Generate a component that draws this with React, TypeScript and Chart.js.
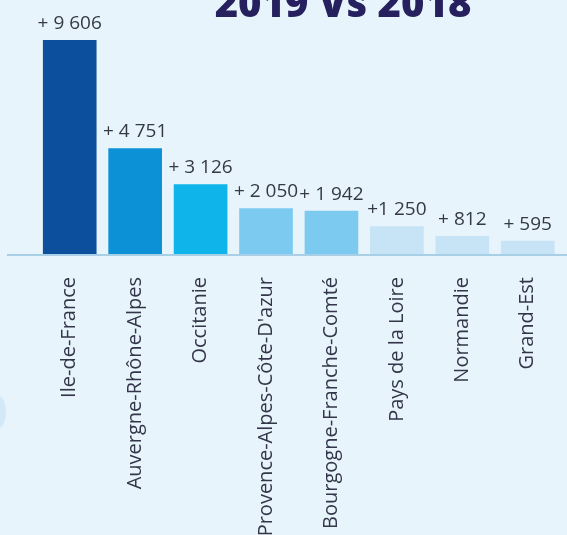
import React, { useEffect, useRef } from "react";
import { Chart, registerables } from "chart.js";

Chart.register(...registerables);

const TITLE = "2019 Vs 2018";
const categories = [
  "Ile-de-France",
  "Auvergne-Rhône-Alpes",
  "Occitanie",
  "Provence-Alpes-Côte-D'azur",
  "Bourgogne-Franche-Comté",
  "Pays de la Loire",
  "Normandie",
  "Grand-Est",
];
const values = [9606, 4751, 3126, 2050, 1942, 1250, 812, 595];
const valueLabels = ["+ 9 606", "+ 4 751", "+ 3 126", "+ 2 050", "+ 1 942", "+1 250", "+ 812", "+ 595"];
const barColors = ["#0b4f9d", "#0c91d7", "#0fb5ea", "#7ccaf0", "#7ccaf0", "#c6e4f6", "#c6e4f6", "#c6e4f6"];

const W = 567;
const H = 620;
const AXIS_Y = 254;

export default function App() {
  const ref = useRef<HTMLCanvasElement | null>(null);

  useEffect(() => {
    if (!ref.current) return;
    const deco = {
      id: "deco",
      beforeDatasetsDraw(chart: any) {
        const { ctx, chartArea } = chart;
        ctx.save();
        ctx.strokeStyle = "#a9cfe6";
        ctx.lineWidth = 2;
        ctx.beginPath();
        ctx.moveTo(7, chartArea.bottom + 1);
        ctx.lineTo(W, chartArea.bottom + 1);
        ctx.stroke();
        ctx.restore();
      },
      afterDatasetsDraw(chart: any) {
        const { ctx } = chart;
        const meta = chart.getDatasetMeta(0);
        ctx.save();
        ctx.fillStyle = "#343944";
        ctx.font = "19px 'Open Sans'";
        ctx.textAlign = "center";
        ctx.textBaseline = "alphabetic";
        meta.data.forEach((bar: any, i: number) => {
          ctx.fillText(valueLabels[i], bar.x, bar.y - 11);
        });
        ctx.fillStyle = "#26215e";
        ctx.font = "800 40px 'Open Sans'";
        ctx.fillText(TITLE, 343, 17);
        ctx.restore();
      },
    };
    const chart = new Chart(ref.current, {
      type: "bar",
      data: {
        labels: categories,
        datasets: [
          {
            data: values,
            backgroundColor: barColors,
            borderWidth: 0,
            barPercentage: 0.82,
            categoryPercentage: 1,
          },
        ],
      },
      options: {
        responsive: false,
        animation: false,
        layout: { padding: { top: 30, left: 37, right: 4, bottom: 0 } },
        plugins: { legend: { display: false }, tooltip: { enabled: false }, title: { display: false } },
        scales: {
          y: { display: false, min: 0, max: 10055 },
          x: {
            grid: { display: false },
            border: { display: false },
            afterFit: (scale: any) => {
              scale.height = H - AXIS_Y;
            },
            ticks: {
              minRotation: 90,
              maxRotation: 90,
              autoSkip: false,
              padding: 15,
              color: "#33364a",
              font: { family: "'Open Sans'", size: 20 },
            },
          },
        },
      },
      plugins: [deco],
    });
    return () => chart.destroy();
  }, []);

  return (
    <div
      style={{
        position: "absolute",
        top: 0,
        left: 0,
        width: W,
        height: 535,
        overflow: "hidden",
        background: "#e8f4fb",
      }}
    >
      <div
        style={{
          position: "absolute",
          left: -14,
          top: 394,
          width: 20,
          height: 36,
          borderRadius: "50%",
          background: "#d3e9f7",
        }}
      />
      <canvas ref={ref} width={W} height={H} style={{ position: "absolute", top: 0, left: 0 }} />
    </div>
  );
}
